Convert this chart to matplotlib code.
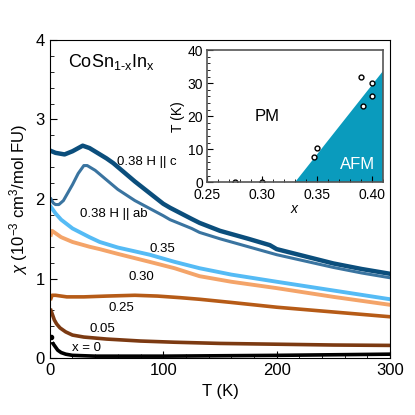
import numpy as np
import matplotlib
matplotlib.use("Agg")
import matplotlib.pyplot as plt
from matplotlib.ticker import MultipleLocator

plt.rcParams['font.family'] = ['Liberation Sans', 'DejaVu Sans']
plt.rcParams['mathtext.fontset'] = 'custom'
plt.rcParams['mathtext.rm'] = 'Liberation Sans'
plt.rcParams['mathtext.it'] = 'Liberation Sans:italic'

# chi(T) curves (T in K, chi in 1e-3 cm3/mol FU)
t_c = [0, 5, 13, 20, 29, 35, 50, 56, 75, 100, 106, 125, 132, 150, 175, 194, 200, 225, 250, 275, 300]
chi_c = [2.61, 2.58, 2.56, 2.60, 2.67, 2.64, 2.51, 2.45, 2.22, 1.94, 1.89, 1.75, 1.70, 1.60, 1.50, 1.42, 1.37, 1.28, 1.19, 1.12, 1.06]

t_ab = [1, 3, 5, 8, 12, 16, 20, 25, 30, 33, 40, 50, 60, 75, 100, 106, 125, 132, 150, 175, 200, 225, 250, 275, 300]
chi_ab = [2.00, 1.95, 1.93, 1.93, 1.98, 2.08, 2.18, 2.32, 2.42, 2.42, 2.36, 2.24, 2.12, 1.98, 1.79, 1.74, 1.63, 1.58, 1.50, 1.40, 1.30, 1.22, 1.14, 1.07, 1.01]

t_35 = [1, 5, 10, 20, 35, 44, 60, 88, 110, 132, 160, 200, 250, 300]
chi_35 = [1.90, 1.82, 1.74, 1.63, 1.52, 1.46, 1.39, 1.30, 1.21, 1.13, 1.05, 0.96, 0.85, 0.74]

t_30 = [1, 2, 4, 10, 20, 35, 44, 60, 88, 110, 132, 160, 200, 250, 300]
chi_30 = [1.55, 1.60, 1.58, 1.52, 1.46, 1.40, 1.37, 1.31, 1.21, 1.13, 1.03, 0.96, 0.88, 0.77, 0.67]

t_25 = [1, 2, 5, 15, 30, 50, 75, 95, 115, 132, 160, 200, 250, 300]
chi_25 = [0.75, 0.79, 0.79, 0.77, 0.77, 0.78, 0.79, 0.78, 0.76, 0.74, 0.70, 0.64, 0.58, 0.52]

t_05 = [1, 2, 4, 6, 9, 14, 20, 30, 50, 80, 110, 150, 200, 250, 300]
chi_05 = [0.60, 0.56, 0.48, 0.43, 0.38, 0.33, 0.29, 0.265, 0.24, 0.215, 0.20, 0.185, 0.175, 0.165, 0.16]

t_00 = [3, 5, 7, 10, 14, 20, 40, 100, 200, 300]
chi_00 = [0.18, 0.14, 0.10, 0.07, 0.05, 0.035, 0.025, 0.025, 0.035, 0.05]
t_00_dot = [1]
chi_00_dot = [0.27]

# inset phase diagram
x_pts = [0.275, 0.30, 0.347, 0.35, 0.39, 0.392, 0.40, 0.40]
tn_pts = [0, 0, 7.5, 10.5, 32, 23, 30, 26]
afm_x = [0.33, 0.41, 0.41]
afm_t = [0, 33.7, 0]

fig = plt.figure(figsize=(4.15, 4.15), dpi=100)
ax = fig.add_axes([0.120, 0.137, 0.820, 0.767])

ax.plot(t_c, chi_c, color='#0b4e7c', lw=3.2)
ax.plot(t_ab, chi_ab, color='#3a74a0', lw=2.2)
ax.plot(t_35, chi_35, color='#55bbf5', lw=2.8)
ax.plot(t_30, chi_30, color='#f4a469', lw=2.8)
ax.plot(t_25, chi_25, color='#b65b17', lw=2.6)
ax.plot(t_05, chi_05, color='#7c3a12', lw=2.6)
ax.plot(t_00, chi_00, color='black', lw=2.6)
ax.plot(t_00_dot, chi_00_dot, 'o', color='black', ms=3)

ax.text(59, 2.47, '0.38 H || c', fontsize=9.5, va='center')
ax.text(27, 1.81, '0.38 H || ab', fontsize=9.5, va='center')
ax.text(88, 1.37, '0.35', fontsize=9.5, va='center')
ax.text(69, 1.02, '0.30', fontsize=9.5, va='center')
ax.text(52, 0.63, '0.25', fontsize=9.5, va='center')
ax.text(35, 0.36, '0.05', fontsize=9.5, va='center')
ax.text(20, 0.13, 'x = 0', fontsize=9.5, va='center')
ax.text(16, 3.72, 'CoSn$_{\\mathregular{1\\text{-}x}}$In$_{\\mathregular{x}}$', fontsize=13, va='center')

ax.set_xlim(0, 300)
ax.set_ylim(0, 4)
ax.xaxis.set_major_locator(MultipleLocator(100))
ax.xaxis.set_minor_locator(MultipleLocator(20))
ax.yaxis.set_major_locator(MultipleLocator(1))
ax.yaxis.set_minor_locator(MultipleLocator(0.2))
ax.tick_params(which='both', direction='in', labelsize=12)
ax.tick_params(which='major', length=5)
ax.tick_params(which='minor', length=3)
ax.set_xlabel('T (K)', fontsize=12)
ax.set_ylabel('$\\chi$ (10$^{-3}$ cm$^3$/mol FU)', fontsize=12)

ins = fig.add_axes([0.499, 0.561, 0.424, 0.318])
ins.fill(afm_x, afm_t, color='#0a9bbd', lw=0)
ins.plot(x_pts, tn_pts, 'o', mfc='white', mec='black', ms=3.5, mew=1)
ins.text(0.305, 20, 'PM', fontsize=12, ha='center', va='center')
ins.text(0.387, 5.5, 'AFM', fontsize=12, color='white', ha='center', va='center')
ins.set_xlim(0.25, 0.41)
ins.set_ylim(0, 40)
ins.xaxis.set_minor_locator(MultipleLocator(0.01))
ins.yaxis.set_major_locator(MultipleLocator(10))
ins.yaxis.set_minor_locator(MultipleLocator(2))
ins.set_xticks([0.25, 0.30, 0.35, 0.40])
ins.set_xticklabels(['0.25', '0.30', '0.35', '0.40'])
ins.tick_params(which='both', direction='in', labelsize=10)
ins.tick_params(axis='x', pad=4)
ins.tick_params(axis='y', pad=3)
ins.tick_params(which='major', length=4)
ins.tick_params(which='minor', length=2)
for s in ins.spines.values():
    s.set_color('#555555')
    s.set_linewidth(1.2)
ins.set_xlabel('$x$', fontsize=10, labelpad=0)
ins.set_ylabel('T (K)', fontsize=10, labelpad=2)

fig.savefig('out.png', dpi=100)
